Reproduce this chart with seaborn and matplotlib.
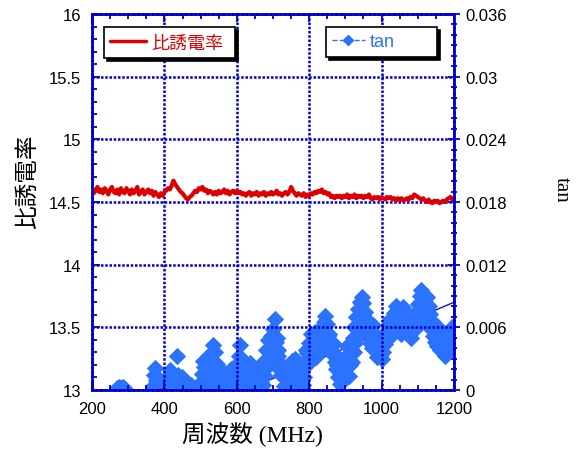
import numpy as np
import pandas as pd
import matplotlib
matplotlib.use('Agg')
import matplotlib.pyplot as plt
import seaborn as sns
from matplotlib.lines import Line2D
from matplotlib.ticker import MultipleLocator, FuncFormatter

sns.set_theme(style='white')
plt.rcParams['font.family'] = ['Liberation Sans', 'Noto Sans CJK JP', 'DejaVu Sans']

# ---------------- data ----------------
freq_eps = np.arange(200, 1201, 5)
eps = [
    14.61, 14.57, 14.59, 14.62, 14.58, 14.60, 14.57, 14.61, 14.59, 14.56,   # 200
    14.60, 14.62, 14.58, 14.57, 14.60, 14.56, 14.61, 14.58, 14.57, 14.61,   # 250
    14.59, 14.56, 14.60, 14.57, 14.59, 14.62, 14.56, 14.58, 14.60, 14.56,   # 300
    14.58, 14.60, 14.57, 14.59, 14.55, 14.58, 14.56, 14.54, 14.57, 14.55,   # 350
    14.58, 14.59, 14.61, 14.60, 14.63, 14.67, 14.64, 14.62, 14.60, 14.58,   # 400
    14.57, 14.55, 14.53, 14.52, 14.54, 14.55, 14.57, 14.59, 14.58, 14.61,   # 450
    14.60, 14.62, 14.59, 14.60, 14.57, 14.59, 14.58, 14.56, 14.58, 14.56,   # 500
    14.59, 14.57, 14.58, 14.60, 14.57, 14.59, 14.56, 14.58, 14.59, 14.57,   # 550
    14.59, 14.57, 14.58, 14.56, 14.57, 14.55, 14.57, 14.58, 14.55, 14.57,   # 600
    14.56, 14.58, 14.55, 14.57, 14.56, 14.58, 14.55, 14.57, 14.56, 14.58,   # 650
    14.56, 14.57, 14.59, 14.56, 14.57, 14.55, 14.57, 14.58, 14.56, 14.58,   # 700
    14.62, 14.59, 14.57, 14.55, 14.57, 14.56, 14.55, 14.57, 14.54, 14.56,   # 750
    14.55, 14.57, 14.56, 14.58, 14.57, 14.59, 14.58, 14.60, 14.57, 14.58,   # 800
    14.56, 14.57, 14.54, 14.55, 14.53, 14.55, 14.54, 14.55, 14.53, 14.55,   # 850
    14.54, 14.56, 14.53, 14.55, 14.54, 14.56, 14.53, 14.55, 14.54, 14.55,   # 900
    14.53, 14.55, 14.54, 14.56, 14.53, 14.52, 14.54, 14.53, 14.54, 14.52,   # 950
    14.54, 14.53, 14.52, 14.54, 14.53, 14.54, 14.52, 14.53, 14.51, 14.53,   # 1000
    14.52, 14.53, 14.51, 14.52, 14.53, 14.52, 14.54, 14.53, 14.56, 14.55,   # 1050
    14.54, 14.53, 14.52, 14.53, 14.51, 14.50, 14.52, 14.50, 14.49, 14.51,   # 1100
    14.50, 14.51, 14.49, 14.50, 14.51, 14.50, 14.52, 14.53, 14.54, 14.52,   # 1150
    14.53,                                                                  # 1200
]

# tan measured on the 5 MHz grid (200 ... 1200 MHz), in units of 1e-3
freq_tan_a = np.arange(200, 1201, 5)
tan_milli_a = [
    -0.8, -0.8, -0.8, -0.8, -0.8, -0.8, -0.8, -0.8, -0.8, -0.8,   # 200
    -0.8, -0.8, -0.5, -0.2, 0.2, 0.3, 0.2, 0.3, 0.1, -0.3,        # 250
    -0.8, -0.8, -0.8, -0.8, -0.8, -0.8, -0.8, -0.8, -0.8, -0.8,   # 300
    -0.8, -0.8, -0.4, 0.0, 0.5, 2.1, 1.2, 0.6, 0.2, 0.9,          # 350
    0.5, 0.2, 1.0, 1.9, 0.8, 0.3, 1.2, 3.3, 1.0, 0.5,             # 400
    1.2, 0.6, 0.2, 0.4, 0.1, -0.3, -0.6, 0.1, -0.3, 0.2,          # 450
    0.8, 1.5, 2.2, 1.0, 0.3, 2.5, 3.5, 4.3, 3.6, 2.5,             # 500
    1.2, 0.5, 1.8, 0.8, 0.2, 1.5, 0.6, 2.0, 1.0, 0.4,             # 550
    2.5, 3.3, 4.3, 3.0, 1.6, 0.5, 2.4, 1.5, 0.7, 0.2,             # 600
    1.2, 2.0, 0.6, 0.2, 1.8, 2.8, 3.8, 4.8, 4.0, 5.2,             # 650
    5.8, 6.8, 5.0, 3.8, 2.6, 1.4, 0.4, 0.0, 1.0, 2.0,             # 700
    1.3, 2.4, 3.0, 2.2, 1.2, 0.3, 2.0, 1.2, 2.6, 3.5,             # 750
    4.5, 5.4, 4.2, 5.6, 4.6, 3.6, 5.0, 6.0, 6.5, 7.1,             # 800
    6.3, 5.4, 4.5, 3.6, 2.7, 2.0, 1.2, 0.6, 2.5, 1.4,             # 850
    3.2, 4.2, 1.3, 3.8, 5.0, 6.0, 7.0, 7.8, 8.4, 8.9,             # 900
    8.3, 7.5, 6.7, 6.0, 5.4, 6.2, 5.5, 4.5, 3.8, 3.3,             # 950
    3.0, 3.6, 4.4, 5.0, 5.6, 6.2, 6.8, 7.4, 8.0, 7.3,             # 1000
    6.6, 7.2, 7.9, 7.0, 6.2, 5.6, 5.0, 5.8, 6.6, 7.4,             # 1050
    8.2, 9.0, 9.6, 9.0, 8.4, 8.9, 8.0, 7.3, 6.6, 6.0,             # 1100
    5.4, 6.0, 5.2, 4.5, 3.8, 3.3, 3.6, 4.4, 5.2, 6.0,             # 1150
    5.3,                                                          # 1200
]
# tan at the in-between frequencies (202.5 ... 1197.5 MHz), in units of 1e-3
freq_tan_b = np.arange(202.5, 1200, 5)
tan_milli_b = [
    -0.8, -0.8, -0.8, -0.8, -0.8, -0.8, -0.8, -0.8, -0.8, -0.8,   # 202.5
    -0.8, -0.8, -0.8, 0.0, 0.1, 0.1, 0.1, 0.1, -0.2, -0.8,        # 252.5
    -0.8, -0.8, -0.8, -0.8, -0.8, -0.8, -0.8, -0.8, -0.8, -0.8,   # 302.5
    -0.8, -0.8, -0.8, 0.3, 1.4, 1.0, 0.3, 0.1, 0.5, 0.2,          # 352.5
    0.9, 0.6, 0.4, 0.7, 0.1, 0.8, 0.6, 1.4, 0.3, 0.9,             # 402.5
    0.3, 0.9, 0.1, -0.3, 0.5, -0.8, -0.8, -0.2, -0.8, -0.2,       # 452.5
    0.2, 2.8, 1.3, 0.2, 1.4, 3.0, 1.6, 2.0, 1.0, 0.6,             # 502.5
    2.0, 1.4, 0.3, 1.3, 0.9, 0.2, 1.2, 0.3, 1.6, 1.8,             # 552.5
    1.3, 2.0, 2.2, 0.8, 1.1, 1.6, 0.6, 2.6, 1.3, 0.6,             # 602.5
    0.4, 1.1, 1.3, 0.8, 0.5, 1.3, 2.2, 2.9, 3.2, 2.7,             # 652.5
    4.0, 4.6, 3.3, 2.0, 1.4, 2.2, 1.3, 0.6, 0.3, 0.8,             # 702.5
    2.8, 1.2, 0.5, 1.4, 0.4, 1.2, 0.5, 2.8, 3.8, 2.5,             # 752.5
    3.0, 3.8, 5.2, 3.2, 5.6, 4.4, 3.8, 4.2, 5.2, 5.5,             # 802.5
    5.2, 4.0, 3.4, 4.4, 3.3, 2.4, 2.8, 1.6, 1.0, 2.2,             # 852.5
    2.2, 3.0, 2.4, 2.7, 3.6, 4.5, 5.0, 5.8, 6.5, 7.2,             # 902.5
    7.0, 6.4, 5.5, 4.5, 4.0, 4.6, 3.8, 3.2, 4.8, 4.4,             # 952.5
    4.6, 5.0, 5.6, 6.2, 6.8, 5.3, 5.6, 6.0, 6.4, 5.8,             # 1002.5
    5.4, 5.8, 6.4, 5.8, 7.2, 7.0, 6.4, 7.2, 5.8, 6.0,             # 1052.5
    6.4, 7.4, 8.2, 7.6, 7.0, 7.4, 6.6, 5.8, 5.2, 4.6,             # 1102.5
    4.2, 4.6, 3.8, 5.2, 4.6, 4.0, 4.8, 5.6, 4.2, 4.8,             # 1152.5
]

trend_freq = [625, 1200]
trend_tan = [0.0, 0.0084]

AXC = '#0000CC'
RED = '#DD0000'
BLUE = '#2B72FF'

df_eps = pd.DataFrame({'freq': freq_eps, 'eps': eps})
df_tan = pd.DataFrame({
    'freq': np.concatenate([freq_tan_a, freq_tan_b]),
    'tan': np.concatenate([tan_milli_a, tan_milli_b]) * 1e-3,
}).sort_values('freq')

# ---------------- figure ----------------
fig = plt.figure(figsize=(5.77, 4.52), dpi=100)
ax = fig.add_axes([92 / 577, 1 - 391 / 452, 362 / 577, 376 / 452])
ax2 = ax.twinx()

ax2.plot(trend_freq, trend_tan, color='#1010B0', lw=1.0, zorder=1)
sns.scatterplot(data=df_tan, x='freq', y='tan', ax=ax2, marker='D', s=78,
                color=BLUE, edgecolor=BLUE, linewidth=0, legend=False, zorder=2)
sns.lineplot(data=df_eps, x='freq', y='eps', ax=ax, color=RED, lw=3.0,
             legend=False)

ax.set_zorder(ax2.get_zorder() + 1)
ax.patch.set_visible(False)
ax2.patch.set_visible(True)
ax2.patch.set_facecolor('white')

ax.set_xlim(200, 1200)
ax.set_ylim(13, 16)
ax2.set_ylim(0, 0.036)

ax.xaxis.set_major_locator(MultipleLocator(200))
ax.xaxis.set_minor_locator(MultipleLocator(50))
ax.yaxis.set_major_locator(MultipleLocator(0.5))
ax.yaxis.set_minor_locator(MultipleLocator(0.1))
ax2.yaxis.set_major_locator(MultipleLocator(0.006))
ax2.yaxis.set_minor_locator(MultipleLocator(0.001))

ax.yaxis.set_major_formatter(FuncFormatter(lambda v, p: f'{v:g}'))
ax2.yaxis.set_major_formatter(FuncFormatter(lambda v, p: f'{round(v, 4):g}'))

ax.grid(True, which='major', color=AXC, ls=(0, (1, 0.7)), lw=1.8)

ax.tick_params(which='both', direction='in', top=True, bottom=True,
               left=True, right=False, colors=AXC, labelcolor='black',
               labelsize=12, width=1.3)
ax.tick_params(which='major', length=6, pad=8)
ax.tick_params(which='minor', length=3.5)
ax2.tick_params(which='both', direction='inout', right=True, colors=AXC,
                labelcolor='black', labelsize=12, width=1.3)
ax2.tick_params(which='major', length=8, pad=4)
ax2.tick_params(which='minor', length=5)

for sp in ax.spines.values():
    sp.set_color(AXC)
    sp.set_linestyle((0, (1, 0.7)))
    sp.set_linewidth(2)
for sp in ax2.spines.values():
    sp.set_visible(False)

for lab in ax.get_xticklabels() + ax.get_yticklabels() + ax2.get_yticklabels():
    lab.set_family(['Liberation Sans'])

ax.set_xlabel('周波数 (MHz)', fontsize=17,
              family=['Liberation Serif', 'Noto Sans CJK JP'], color='black',
              va='center')
ax.xaxis.set_label_coords(0.442, -0.117)
ax.set_ylabel('比誘電率', fontsize=17, family=['Noto Sans CJK JP'],
              color='black', va='center', ha='center')
ax.yaxis.set_label_coords(-0.177, 0.556)
ax2.set_ylabel('tan', fontsize=15, family=['Liberation Serif'], rotation=-90,
               color='black', va='center', ha='center')
ax2.yaxis.set_label_coords(1.296, 0.535)

h1 = Line2D([], [], color=RED, lw=2.5)
h2 = Line2D([], [], color=BLUE, lw=1, ls='--', marker='D', markersize=5)
shadow = {'color': 'black', 'alpha': 1}
leg1 = ax.legend([h1], ['比誘電率'], loc='upper left', mode='expand',
                 bbox_to_anchor=(0.033, 0.80, 0.362, 0.165), frameon=True,
                 fancybox=False, edgecolor='black', framealpha=1,
                 shadow=shadow, prop={'family': ['Noto Sans CJK JP'], 'size': 13},
                 labelcolor=RED, handlelength=2.0, borderaxespad=0,
                 borderpad=0.35, handletextpad=0.25)
leg1.get_frame().set_linewidth(1.2)
ax.add_artist(leg1)
leg2 = ax.legend([h2], ['tan'], loc='upper left', mode='expand',
                 bbox_to_anchor=(0.646, 0.80, 0.307, 0.165), frameon=True,
                 fancybox=False, edgecolor='black', framealpha=1,
                 shadow=shadow, prop={'family': ['Liberation Sans'], 'size': 13},
                 labelcolor=BLUE, handlelength=1.8, borderaxespad=0,
                 borderpad=0.35, handletextpad=0.3)
leg2.get_frame().set_linewidth(1.2)
leg2.set_zorder(10)

fig.savefig('out.png', dpi=100)
